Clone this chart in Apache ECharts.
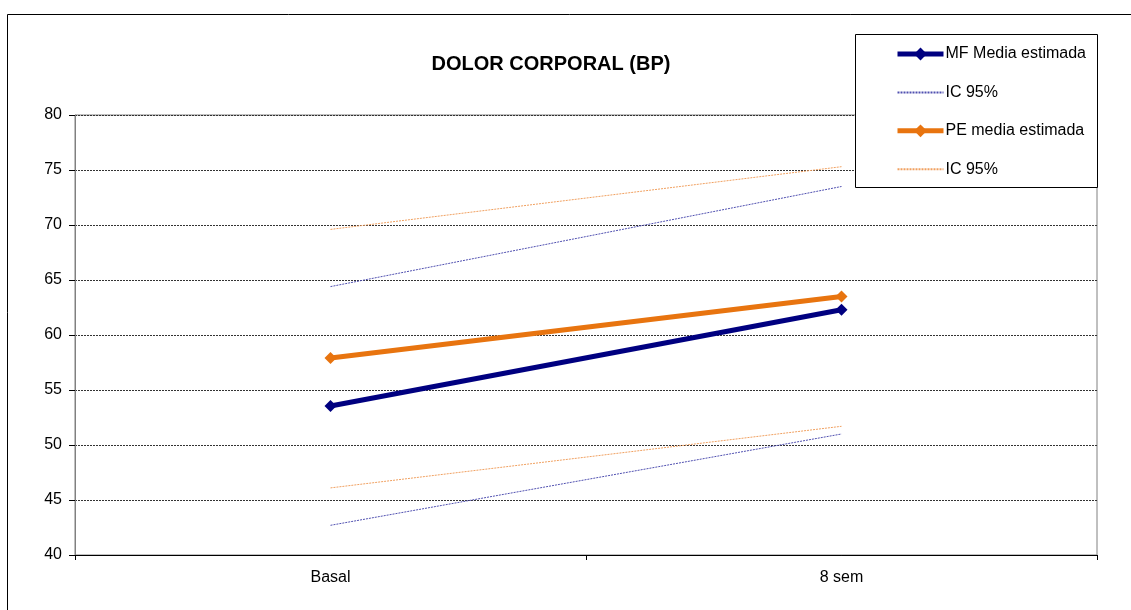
<!DOCTYPE html>
<html><head><meta charset="utf-8">
<script src="https://cdn.jsdelivr.net/npm/echarts@6/dist/echarts.min.js"></script>
<style>html,body{margin:0;padding:0;background:#fff}#c{width:1131px;height:610px}</style>
</head><body><div id="c"></div>
<script>
const categories = ['Basal', '8 sem'];
const mfMean = [53.55, 62.3];
const mfUpper = [64.4, 73.5];
const mfLower = [42.7, 51.0];
const peMean = [57.9, 63.5];
const peUpper = [69.6, 75.3];
const peLower = [46.1, 51.7];
const yTicks = [40, 45, 50, 55, 60, 65, 70, 75, 80];

const font = 'Liberation Sans, Arial, sans-serif';
const chart = echarts.init(document.getElementById('c'));
const ciMF = {type:'line', name:'IC 95% MF', symbol:'none', lineStyle:{color:'#5050b0', width:1, type:[2,1]}, itemStyle:{color:'#5050b0'}, z:2, animation:false};
const ciPE = {type:'line', name:'IC 95% PE', symbol:'none', lineStyle:{color:'#f0a060', width:1, type:[2,1]}, itemStyle:{color:'#f0a060'}, z:2, animation:false};
chart.setOption({
  animation:false,
  title:{text:'DOLOR CORPORAL (BP)', left:546, top:49, textAlign:'center',
    textStyle:{fontFamily:font, fontSize:20, fontWeight:'bold', color:'#000'}},
  graphic:[
    {type:'rect', shape:{x:7.5, y:14.5, width:1130, height:620}, style:{fill:'none', stroke:'#000', lineWidth:1}, z:-1},
    {type:'rect', shape:{x:855.5, y:34.5, width:242, height:153}, style:{fill:'#fff', stroke:'#000', lineWidth:1}, z:10}
  ],
  legend:{orient:'vertical', left:890, top:41, itemWidth:46, itemHeight:16, itemGap:22.4, z:20,
    textStyle:{fontFamily:font, fontSize:16, color:'#000', padding:[0,0,0,-3]},
    data:[
      {name:'MF Media estimada', lineStyle:{width:5}},
      {name:'IC 95% MF', itemStyle:{opacity:0}},
      {name:'PE media estimada', lineStyle:{width:5}},
      {name:'IC 95% PE', itemStyle:{opacity:0}}
    ],
    formatter: n => n.startsWith('IC 95%') ? 'IC 95%' : n},
  grid:{left:75, right:34, top:115, bottom:55, show:true, borderColor:'#808080', borderWidth:1},
  xAxis:{type:'category', data:categories, boundaryGap:true,
    axisLine:{lineStyle:{color:'#000', width:1}},
    axisTick:{show:true, length:5, lineStyle:{color:'#000'}},
    axisLabel:{fontFamily:font, fontSize:16, color:'#000', margin:15}},
  yAxis:{type:'value', min:40, max:80, interval:5,
    axisLine:{show:true, lineStyle:{color:'#808080'}},
    axisTick:{show:true, length:6, lineStyle:{color:'#000'}},
    axisLabel:{fontFamily:font, fontSize:16, color:'#000', margin:13,
      formatter: v => yTicks.includes(v) ? String(v) : ''},
    splitLine:{show:true, lineStyle:{color:'#333', width:1, type:[2,1]}}},
  series:[
    {type:'line', name:'MF Media estimada', data:mfMean, symbol:'diamond', symbolSize:12,
      lineStyle:{color:'#000080', width:5}, itemStyle:{color:'#000080'}, z:5},
    Object.assign({data:mfUpper}, ciMF),
    Object.assign({data:mfLower}, ciMF),
    {type:'line', name:'PE media estimada', data:peMean, symbol:'diamond', symbolSize:12,
      lineStyle:{color:'#e8740f', width:5}, itemStyle:{color:'#e8740f'}, z:5},
    Object.assign({data:peUpper}, ciPE),
    Object.assign({data:peLower}, ciPE)
  ]
});
</script></body></html>
